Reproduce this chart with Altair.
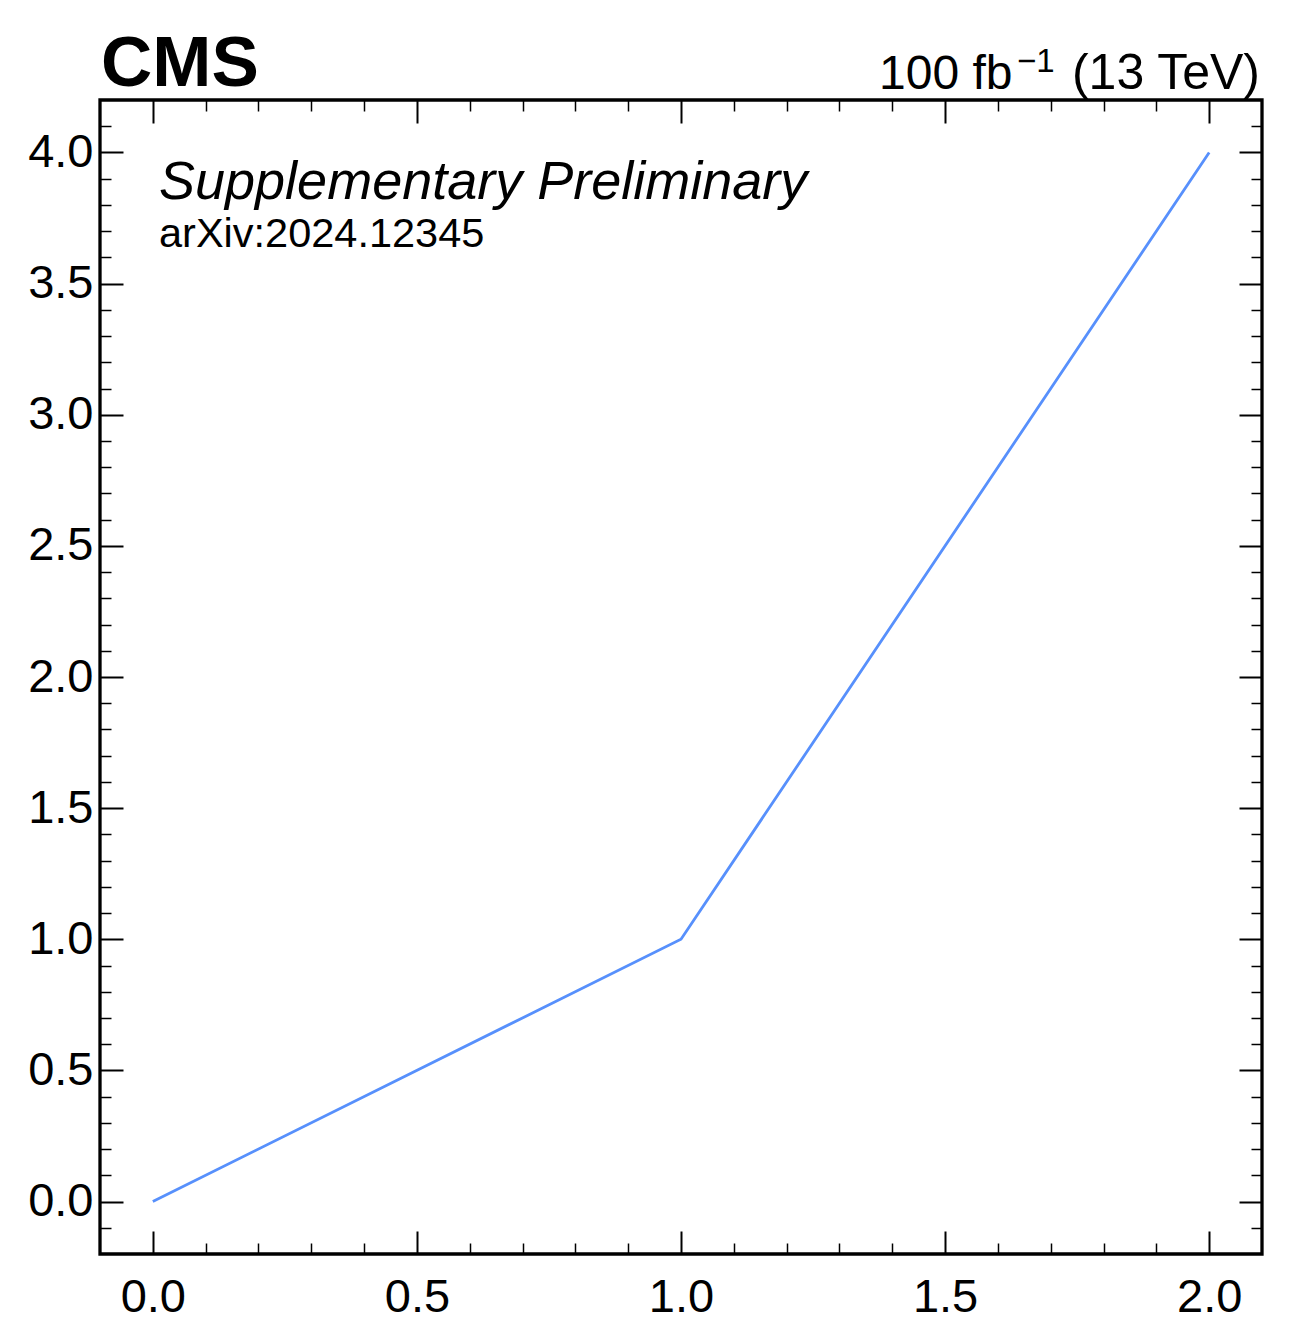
import altair as alt
import pandas as pd

# data
x_vals = [0.0, 1.0, 2.0]
y_vals = [0.0, 1.0, 4.0]

x_major = [0.0, 0.5, 1.0, 1.5, 2.0]
x_minor = [0.1, 0.2, 0.3, 0.4, 0.6, 0.7, 0.8, 0.9, 1.1, 1.2, 1.3, 1.4, 1.6, 1.7, 1.8, 1.9]
y_major = [0.0, 0.5, 1.0, 1.5, 2.0, 2.5, 3.0, 3.5, 4.0]
y_minor = [-0.1, 0.1, 0.2, 0.3, 0.4, 0.6, 0.7, 0.8, 0.9, 1.1, 1.2, 1.3, 1.4,
           1.6, 1.7, 1.8, 1.9, 2.1, 2.2, 2.3, 2.4, 2.6, 2.7, 2.8, 2.9, 3.1,
           3.2, 3.3, 3.4, 3.6, 3.7, 3.8, 3.9, 4.1]

x_domain = [-0.1, 2.1]
y_domain = [-0.2, 4.2]

df = pd.DataFrame({"x": x_vals, "y": y_vals})

FONT = "Liberation Sans"
W, H = 1162, 1154
MAJ, MIN = 23, 11

def axis(values, orient, size, labels, pad=0, fmt=".1f"):
    kw = dict(values=values, orient=orient, tickSize=size, offset=-size,
              domain=False, grid=False, title=None, labels=labels,
              tickColor="black", tickWidth=2 if size == MAJ else 1.5,
              labelFont=FONT, labelFontSize=47, labelColor="black",
              labelPadding=pad, format=fmt, labelFlush=False,
              labelOverlap=False, ticks=True)
    return alt.Axis(**kw)

xs = alt.Scale(domain=x_domain, nice=False, zero=False)
ys = alt.Scale(domain=y_domain, nice=False, zero=False)

line = alt.Chart(df).mark_line(color="#5790fc", strokeWidth=2.8).encode(
    x=alt.X("x:Q", scale=xs, axis=axis(x_major, "bottom", MAJ, True, 20)),
    y=alt.Y("y:Q", scale=ys, axis=axis(y_major, "left", MAJ, True, 7)),
)

def ghost(xa, ya):
    return alt.Chart(df).mark_point(opacity=0).encode(
        x=alt.X("x:Q", scale=xs, axis=xa),
        y=alt.Y("y:Q", scale=ys, axis=ya),
    )

g1 = ghost(axis(x_minor, "bottom", MIN, False), axis(y_minor, "left", MIN, False))
g2 = ghost(axis(x_major, "top", MAJ, False), axis(y_major, "right", MAJ, False))
g3 = ghost(axis(x_minor, "top", MIN, False), axis(y_minor, "right", MIN, False))

one = pd.DataFrame({"t": [0]})

def txt(s, x, y, size, weight="normal", style="normal", align="left"):
    return alt.Chart(one).mark_text(
        text=s, font=FONT, fontSize=size, fontWeight=weight, fontStyle=style,
        align=align, baseline="alphabetic", color="black"
    ).encode(x=alt.value(x), y=alt.value(y))

t_cms = txt("CMS", 1, -14, 71, weight="bold")
t_supp = txt("Supplementary Preliminary", 59, 99, 54, style="italic")
t_arx = txt("arXiv:2024.12345", 59, 147, 41.5)
t_lumi = txt("100 fb", 779, -11, 48)
t_sup = txt("\u22121", 917, -28, 33)
t_energy = txt("(13 TeV)", 1160, -11, 50, align="right")

chart = alt.layer(
    line, g1, g2, g3, t_cms, t_supp, t_arx, t_lumi, t_sup, t_energy
).resolve_scale(x="independent", y="independent").resolve_axis(
    x="independent", y="independent"
).properties(
    width=W, height=H,
    autosize=alt.AutoSizeParams(type="none"),
    padding={"left": 92, "top": 92, "right": 22, "bottom": 80},
    background="white",
).configure_view(stroke="black", strokeWidth=3.3)

chart.save("out.html", embed_options={"renderer": "svg", "actions": False})
